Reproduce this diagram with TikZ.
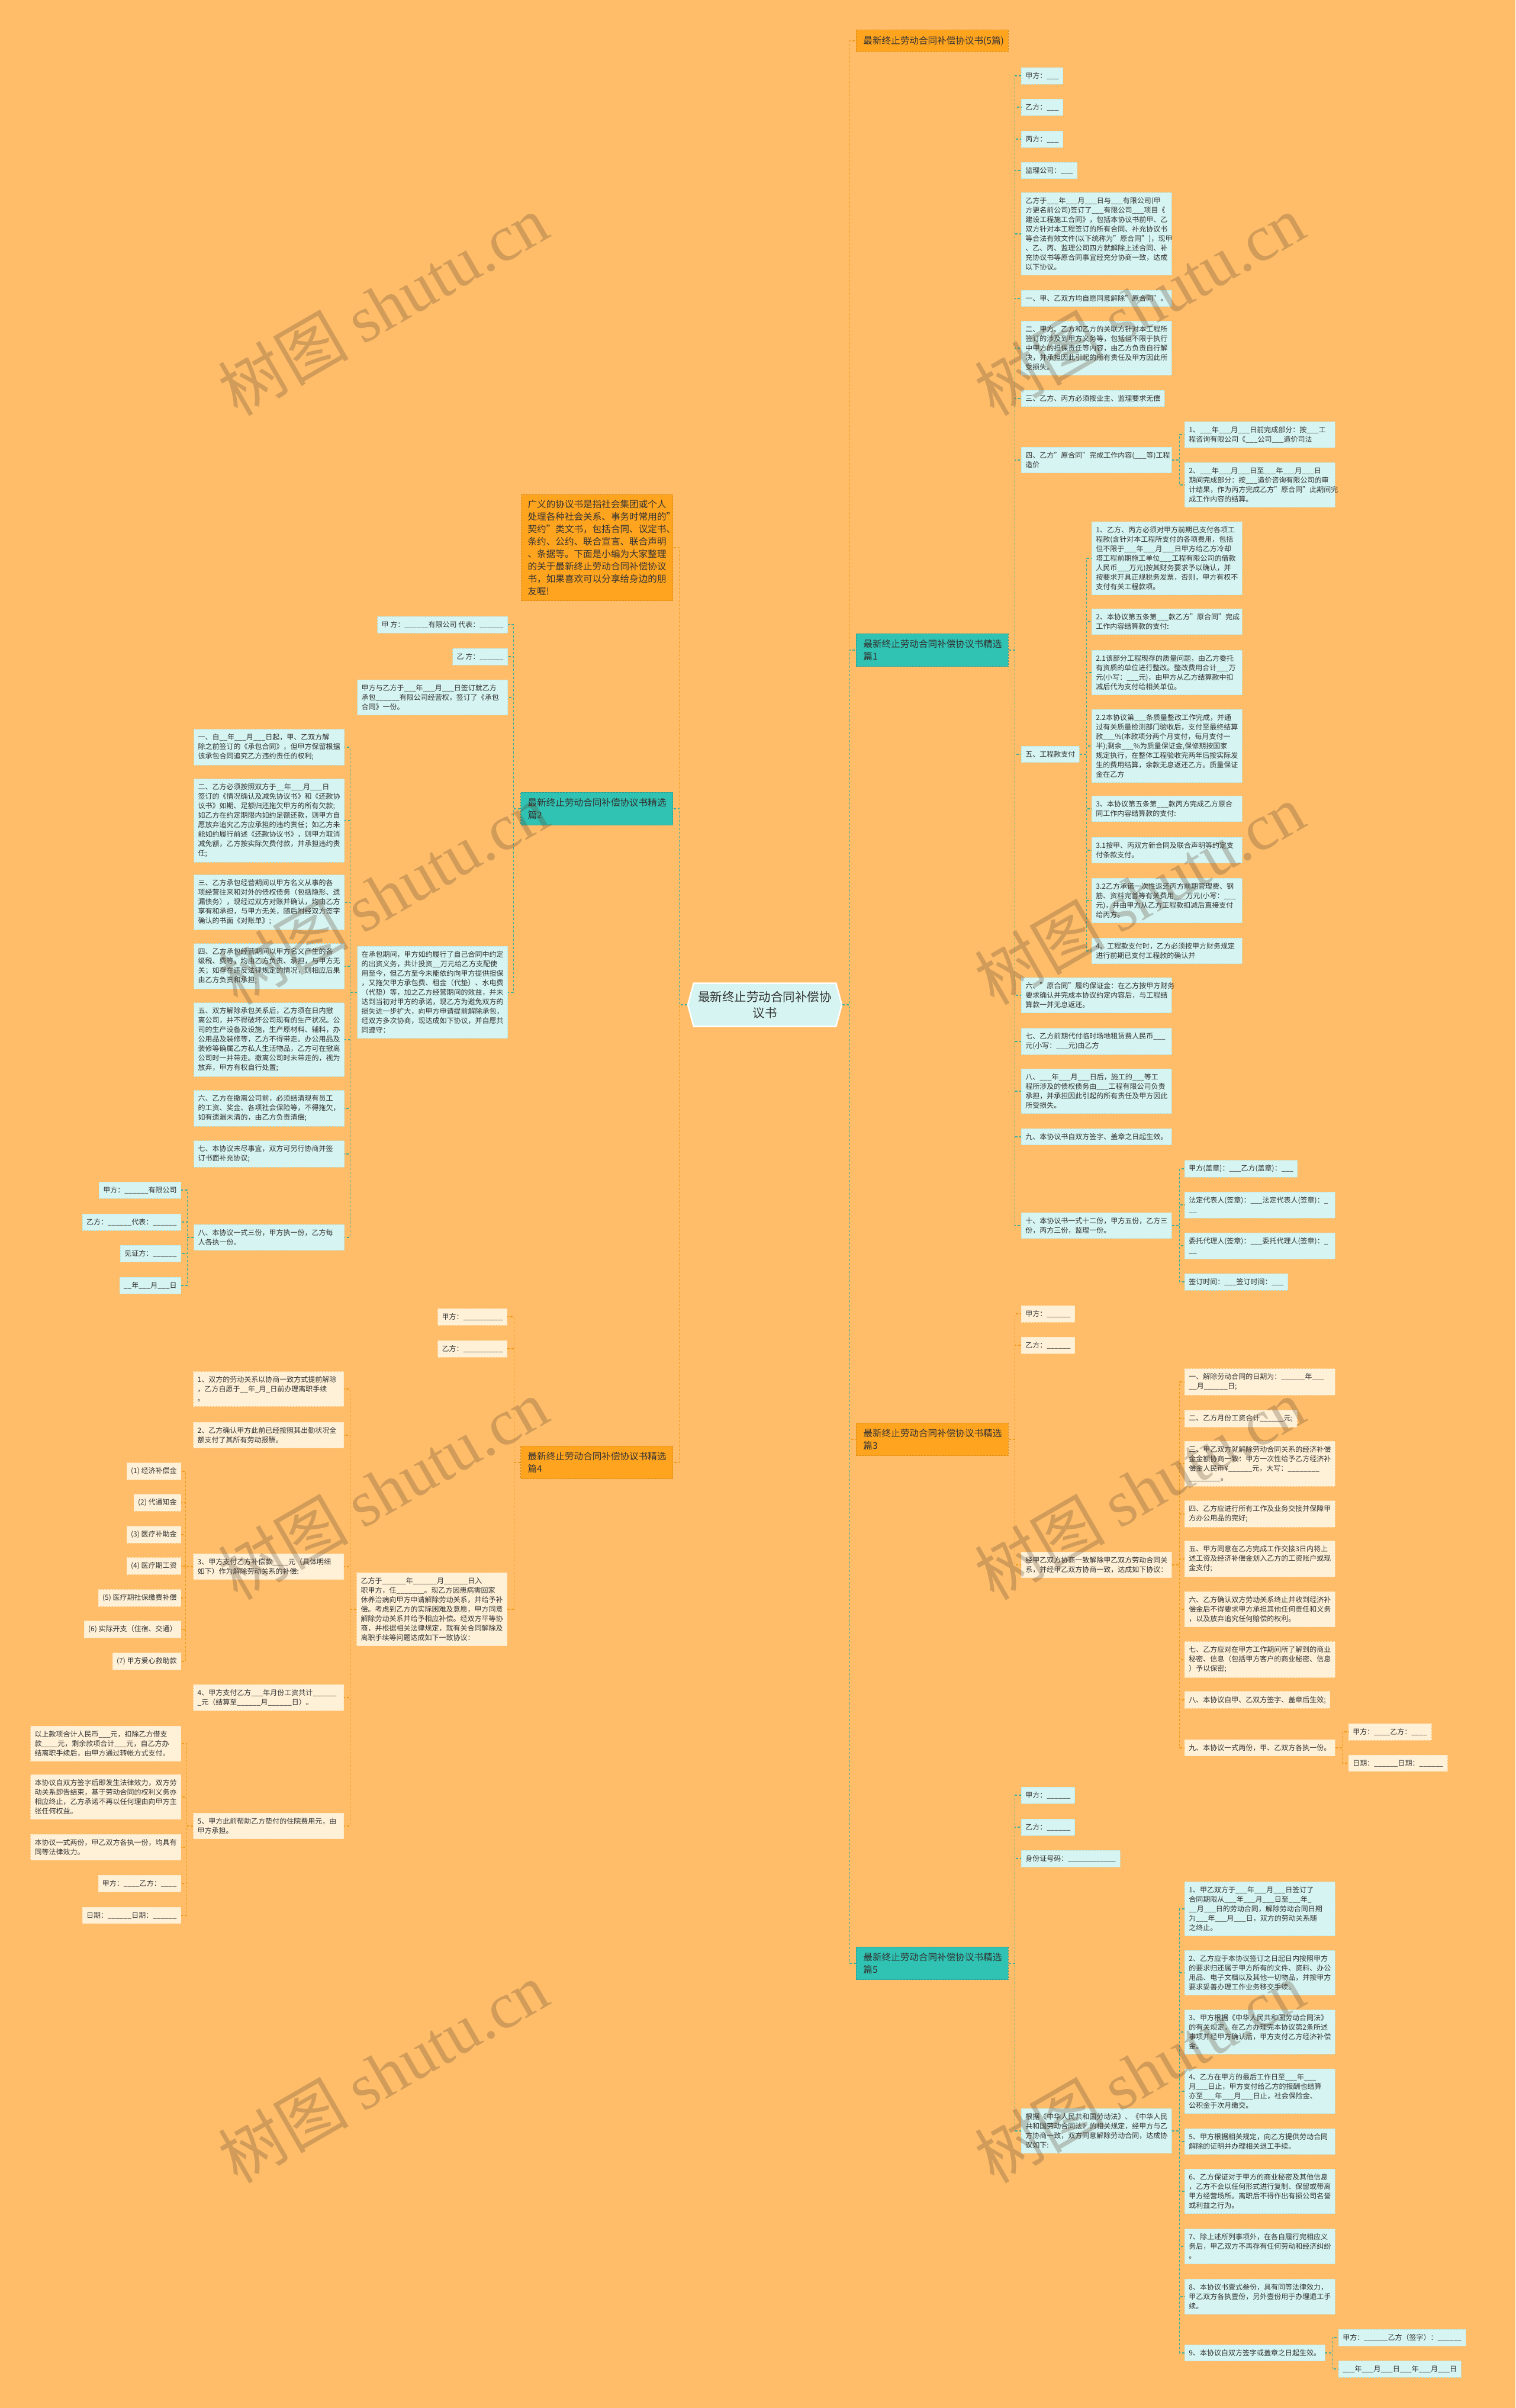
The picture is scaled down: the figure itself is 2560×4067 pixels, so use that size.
\documentclass[tikz,border=0pt]{standalone}
\usepackage{fontspec}
\setmainfont{Noto Sans CJK SC}
\newfontfamily\wmlatin{Liberation Serif}
\usetikzlibrary{shapes.symbols}
\definecolor{mapbg}{HTML}{FFBD69}
\definecolor{sttopic}{HTML}{30C2B2}
\definecolor{sotopic}{HTML}{FFA41F}
\definecolor{stleaf}{HTML}{D6F4F1}
\definecolor{soleaf}{HTML}{FFF1D8}
\definecolor{stline}{HTML}{3AAF9C}
\definecolor{soline}{HTML}{F09A1A}
\definecolor{stext}{HTML}{333333}
\definecolor{swm}{HTML}{5A4632}
\catcode`\_=12

\begin{document}
\begin{tikzpicture}[x=1pt, y=-1pt,
  leaf/.style={draw, dash pattern=on 3pt off 2pt, line width=0.8pt, inner xsep=7pt, inner ysep=8pt,
    text=stext, font=\fontsize{12}{16}\selectfont},
  tleaf/.style={leaf, fill=stleaf, draw=stleaf!80!stline},
  oleaf/.style={leaf, fill=soleaf, draw=soleaf!85!soline},
  wide/.style={text width=240pt, align=left},
  topic/.style={draw, dash pattern=on 3pt off 2pt, line width=0.8pt, inner xsep=12pt, inner ysep=10pt,
    text width=233pt, align=left, text=stext, font=\fontsize{15.6}{21}\selectfont},
  ttopic/.style={topic, fill=sttopic, draw=sttopic!80!black},
  otopic/.style={topic, fill=sotopic, draw=sotopic!85!black},
  tlink/.style={draw=stline, line width=1.2pt, dash pattern=on 4pt off 3pt},
  olink/.style={draw=soline, line width=1.2pt, dash pattern=on 4pt off 3pt},
  wmark/.style={rotate=30, text=swm, text opacity=0.28, font=\fontsize{110}{110}\selectfont}]

  \useasboundingbox (0,0) rectangle (2560,4067);
  \fill[mapbg] (0,0) rectangle (2560,4067);

  % root
  \node[signal, signal to=west and east, signal pointer angle=150, fill=stleaf, draw=white, line width=2.5pt,
    minimum width=260pt, minimum height=73pt, inner sep=2pt, align=center, text=stext,
    font=\fontsize{20.5}{27}\selectfont] (root) at (1292,1697) {最新终止劳动合同补偿协\\议书};

  % right topics
  \node[otopic, anchor=west] (sum5) at (1446,69) {最新终止劳动合同补偿协议书(5篇)};
  \node[ttopic, anchor=west] (p1) at (1446,1098) {最新终止劳动合同补偿协议书精选\\篇1};
  \node[otopic, anchor=west] (p3) at (1446,2431) {最新终止劳动合同补偿协议书精选\\篇3};
  \node[ttopic, anchor=west] (p5) at (1446,3316) {最新终止劳动合同补偿协议书精选\\篇5};

  % left topics
  \node[otopic, anchor=east, text width=234pt, inner xsep=11pt, inner ysep=9pt] (intro) at (1137,925)
    {广义的协议书是指社会集团或个人\\处理各种社会关系、事务时常用的"\\契约"类文书，包括合同、议定书、\\条约、公约、联合宣言、联合声明\\、条据等。下面是小编为大家整理\\的关于最新终止劳动合同补偿协议\\书，如果喜欢可以分享给身边的朋\\友喔!};
  \node[ttopic, anchor=east] (p2) at (1137,1366) {最新终止劳动合同补偿协议书精选\\篇2};
  \node[otopic, anchor=east] (p4) at (1137,2470) {最新终止劳动合同补偿协议书精选\\篇4};

  % 篇1
  \node[tleaf, anchor=west] (p1a) at (1725,128) {甲方：___};
  \node[tleaf, anchor=west] (p1b) at (1725,181) {乙方：___};
  \node[tleaf, anchor=west] (p1c) at (1725,235) {丙方：___};
  \node[tleaf, anchor=west] (p1d) at (1725,288) {监理公司：___};
  \node[tleaf, wide, anchor=west] (p1e) at (1725,395) {乙方于___年___月___日与___有限公司(甲\\方更名前公司)签订了___有限公司___项目《\\建设工程施工合同》，包括本协议书前甲、乙\\双方针对本工程签订的所有合同、补充协议书\\等合法有效文件(以下统称为"原合同")，现甲\\、乙、丙、监理公司四方就解除上述合同、补\\充协议书等原合同事宜经充分协商一致，达成\\以下协议。};
  \node[tleaf, anchor=west] (p1f) at (1725,504) {一、甲、乙双方均自愿同意解除"原合同"。};
  \node[tleaf, wide, anchor=west] (p1g) at (1725,588) {二、甲方、乙方和乙方的关联方针对本工程所\\签订的涉及到甲方义务等，包括但不限于执行\\中甲方的担保责任等内容，由乙方负责自行解\\决，并承担因此引起的所有责任及甲方因此所\\受损失。};
  \node[tleaf, anchor=west] (p1h) at (1725,673) {三、乙方、丙方必须按业主、监理要求无偿};
  \node[tleaf, wide, anchor=west] (p1i) at (1725,777) {四、乙方"原合同"完成工作内容(___等)工程\\造价};
  \node[tleaf, anchor=west] (p1j) at (1725,1274) {五、工程款支付};
  \node[tleaf, wide, anchor=west] (p1k) at (1725,1681) {六、"原合同"履约保证金：在乙方按甲方财务\\要求确认并完成本协议约定内容后，与工程结\\算款一并无息返还。};
  \node[tleaf, wide, anchor=west] (p1l) at (1725,1759) {七、乙方前期代付临时场地租赁费人民币___\\元(小写：___元)由乙方};
  \node[tleaf, wide, anchor=west] (p1m) at (1725,1843) {八、___年___月___日后，施工的___等工\\程所涉及的债权债务由___工程有限公司负责\\承担，并承担因此引起的所有责任及甲方因此\\所受损失。};
  \node[tleaf, anchor=west] (p1n) at (1725,1920) {九、本协议书自双方签字、盖章之日起生效。};
  \node[tleaf, wide, anchor=west] (p1o) at (1725,2070) {十、本协议书一式十二份，甲方五份，乙方三\\份，丙方三份，监理一份。};

  \node[tleaf, wide, anchor=west] (p1i1) at (2001,734) {1、___年___月___日前完成部分：按___工\\程咨询有限公司《___公司___造价司法};
  \node[tleaf, wide, anchor=west] (p1i2) at (2001,819) {2、___年___月___日至___年___月___日\\期间完成部分：按___造价咨询有限公司的审\\计结果，作为丙方完成乙方"原合同"此期间完\\成工作内容的结算。};

  \node[tleaf, wide, anchor=west] (p1j1) at (1844,943) {1、乙方、丙方必须对甲方前期已支付各项工\\程款(含针对本工程所支付的各项费用，包括\\但不限于___年___月___日甲方给乙方冷却\\塔工程前期施工单位___工程有限公司的借款\\人民币___万元)按其财务要求予以确认，并\\按要求开具正规税务发票，否则，甲方有权不\\支付有关工程款项。};
  \node[tleaf, wide, anchor=west] (p1j2) at (1844,1050) {2、本协议第五条第___款乙方"原合同"完成\\工作内容结算款的支付:};
  \node[tleaf, wide, anchor=west] (p1j3) at (1844,1136) {2.1该部分工程现存的质量问题，由乙方委托\\有资质的单位进行整改。整改费用合计___万\\元(小写：___元)，由甲方从乙方结算款中扣\\减后代为支付给相关单位。};
  \node[tleaf, wide, anchor=west] (p1j4) at (1844,1260) {2.2本协议第___条质量整改工作完成，并通\\过有关质量检测部门验收后，支付至最终结算\\款___\%(本款项分两个月支付，每月支付一\\半);剩余___\%为质量保证金,保修期按国家\\规定执行，在整体工程验收完两年后按实际发\\生的费用结算，余款无息返还乙方。质量保证\\金在乙方};
  \node[tleaf, wide, anchor=west] (p1j5) at (1844,1366) {3、本协议第五条第___款丙方完成乙方原合\\同工作内容结算款的支付:};
  \node[tleaf, wide, anchor=west] (p1j6) at (1844,1436) {3.1按甲、丙双方新合同及联合声明等约定支\\付条款支付。};
  \node[tleaf, wide, anchor=west] (p1j7) at (1844,1521) {3.2乙方承诺一次性返还丙方前期管理费、钢\\筋、资料完善等有关费用___万元(小写：___\\元)，并由甲方从乙方工程款扣减后直接支付\\给丙方。};
  \node[tleaf, wide, anchor=west] (p1j8) at (1844,1606) {4、工程款支付时，乙方必须按甲方财务规定\\进行前期已支付工程款的确认并};

  \node[tleaf, anchor=west] (p1o1) at (2001,1974) {甲方(盖章)：___乙方(盖章)：___};
  \node[tleaf, wide, anchor=west] (p1o2) at (2001,2035) {法定代表人(签章)：___法定代表人(签章)：_\\__};
  \node[tleaf, wide, anchor=west] (p1o3) at (2001,2104) {委托代理人(签章)：___委托代理人(签章)：_\\__};
  \node[tleaf, anchor=west] (p1o4) at (2001,2165) {签订时间：___签订时间：___};

  % 篇3
  \node[oleaf, anchor=west] (p3a) at (1725,2219) {甲方：______};
  \node[oleaf, anchor=west] (p3b) at (1725,2272) {乙方：______};
  \node[oleaf, wide, anchor=west] (p3c) at (1725,2643) {经甲乙双方协商一致解除甲乙双方劳动合同关\\系，并经甲乙双方协商一致，达成如下协议：};
  \node[oleaf, wide, anchor=west] (p3c1) at (2001,2334) {一、解除劳动合同的日期为：______年___\\__月______日;};
  \node[oleaf, anchor=west] (p3c2) at (2001,2396) {二、乙方月份工资合计______元;};
  \node[oleaf, wide, anchor=west] (p3c3) at (2001,2472) {三、甲乙双方就解除劳动合同关系的经济补偿\\金金额协商一致：甲方一次性给予乙方经济补\\偿金人民币¥______元，大写：________\\________。};
  \node[oleaf, wide, anchor=west] (p3c4) at (2001,2557) {四、乙方应进行所有工作及业务交接并保障甲\\方办公用品的完好;};
  \node[oleaf, wide, anchor=west] (p3c5) at (2001,2633) {五、甲方同意在乙方完成工作交接3日内将上\\述工资及经济补偿金划入乙方的工资账户或现\\金支付;};
  \node[oleaf, wide, anchor=west] (p3c6) at (2001,2718) {六、乙方确认双方劳动关系终止并收到经济补\\偿金后不得要求甲方承担其他任何责任和义务\\，以及放弃追究任何赔偿的权利。};
  \node[oleaf, wide, anchor=west] (p3c7) at (2001,2803) {七、乙方应对在甲方工作期间所了解到的商业\\秘密、信息（包括甲方客户的商业秘密、信息\\）予以保密;};
  \node[oleaf, anchor=west] (p3c8) at (2001,2871) {八、本协议自甲、乙双方签字、盖章后生效;};
  \node[oleaf, anchor=west] (p3c9) at (2001,2952) {九、本协议一式两份，甲、乙双方各执一份。};
  \node[oleaf, anchor=west] (p3c9a) at (2278,2925) {甲方：____乙方：____};
  \node[oleaf, anchor=west] (p3c9b) at (2278,2978) {日期：______日期：______};

  % 篇5
  \node[tleaf, anchor=west] (p5a) at (1725,3032) {甲方：______};
  \node[tleaf, anchor=west] (p5b) at (1725,3086) {乙方：______};
  \node[tleaf, anchor=west] (p5c) at (1725,3139) {身份证号码：____________};
  \node[tleaf, wide, anchor=west] (p5d) at (1725,3599) {根据《中华人民共和国劳动法》、《中华人民\\共和国劳动合同法》的相关规定，经甲方与乙\\方协商一致，双方同意解除劳动合同，达成协\\议如下:};
  \node[tleaf, wide, anchor=west] (p5d1) at (2001,3224) {1、甲乙双方于___年___月___日签订了\\合同期限从___年___月___日至___年_\\__月___日的劳动合同，解除劳动合同日期\\为___年___月___日，双方的劳动关系随\\之终止。};
  \node[tleaf, wide, anchor=west] (p5d2) at (2001,3332) {2、乙方应于本协议签订之日起日内按照甲方\\的要求归还属于甲方所有的文件、资料、办公\\用品、电子文档以及其他一切物品，并按甲方\\要求妥善办理工作业务移交手续。};
  \node[tleaf, wide, anchor=west] (p5d3) at (2001,3432) {3、甲方根据《中华人民共和国劳动合同法》\\的有关规定，在乙方办理完本协议第2条所述\\事项并经甲方确认后，甲方支付乙方经济补偿\\金。};
  \node[tleaf, wide, anchor=west] (p5d4) at (2001,3532) {4、乙方在甲方的最后工作日至___年___\\月___日止，甲方支付给乙方的报酬也结算\\亦至___年___月___日止，社会保险金、\\公积金于次月缴交。};
  \node[tleaf, wide, anchor=west] (p5d5) at (2001,3617) {5、甲方根据相关规定，向乙方提供劳动合同\\解除的证明并办理相关退工手续。};
  \node[tleaf, wide, anchor=west] (p5d6) at (2001,3701) {6、乙方保证对于甲方的商业秘密及其他信息\\，乙方不会以任何形式进行复制、保留或带离\\甲方经营场所。离职后不得作出有损公司名誉\\或利益之行为。};
  \node[tleaf, wide, anchor=west] (p5d7) at (2001,3794) {7、除上述所列事项外，在各自履行完相应义\\务后，甲乙双方不再存有任何劳动和经济纠纷\\。};
  \node[tleaf, wide, anchor=west] (p5d8) at (2001,3879) {8、本协议书壹式叁份，具有同等法律效力，\\甲乙双方各执壹份，另外壹份用于办理退工手\\续。};
  \node[tleaf, anchor=west] (p5d9) at (2001,3974) {9、本协议自双方签字或盖章之日起生效。};
  \node[tleaf, anchor=west] (p5d9a) at (2261,3948) {甲方：______乙方（签字）：______};
  \node[tleaf, anchor=west] (p5d9b) at (2261,4001) {___年___月___日___年___月___日};

  % 篇2
  \node[tleaf, anchor=east] (p2a) at (858,1055) {甲 方：______有限公司 代表：______};
  \node[tleaf, anchor=east] (p2b) at (858,1109) {乙 方：______};
  \node[tleaf, wide, anchor=east] (p2c) at (858,1178) {甲方与乙方于___年___月___日签订就乙方\\承包______有限公司经营权，签订了《承包\\合同》一份。};
  \node[tleaf, wide, anchor=east] (p2d) at (858,1676) {在承包期间，甲方如约履行了自己合同中约定\\的出资义务，共计投资__万元给乙方支配使\\用至今，但乙方至今未能依约向甲方提供担保\\，又拖欠甲方承包费、租金（代垫）、水电费\\（代垫）等，加之乙方经营期间的效益，并未\\达到当初对甲方的承诺，现乙方为避免双方的\\损失进一步扩大，向甲方申请提前解除承包，\\经双方多次协商，现达成如下协议，并自愿共\\同遵守：};
  \node[tleaf, wide, anchor=east] (p2d1) at (582,1262) {一、自__年___月___日起，甲、乙双方解\\除之前签订的《承包合同》，但甲方保留根据\\该承包合同追究乙方违约责任的权利;};
  \node[tleaf, wide, anchor=east] (p2d2) at (582,1386) {二、乙方必须按照双方于__年___月___日\\签订的《情况确认及减免协议书》和《还款协\\议书》如期、足额归还拖欠甲方的所有欠款;\\如乙方在约定期限内如约足额还款，则甲方自\\愿放弃追究乙方应承担的违约责任；如乙方未\\能如约履行前述《还款协议书》，则甲方取消\\减免额，乙方按实际欠费付款，并承担违约责\\任;};
  \node[tleaf, wide, anchor=east] (p2d3) at (582,1524) {三、乙方承包经营期间以甲方名义从事的各\\项经营往来和对外的债权债务（包括隐形、遗\\漏债务），现经过双方对账并确认，均由乙方\\享有和承担，与甲方无关，随后附经双方签字\\确认的书面《对账单》;};
  \node[tleaf, wide, anchor=east] (p2d4) at (582,1632) {四、乙方承包经营期间以甲方名义产生的各\\级税、费等，均由乙方负责、承担，与甲方无\\关；如存在违反法律规定的情况，则相应后果\\由乙方负责和承担;};
  \node[tleaf, wide, anchor=east] (p2d5) at (582,1756) {五、双方解除承包关系后，乙方须在日内撤\\离公司，并不得破坏公司现有的生产状况。公\\司的生产设备及设施，生产原材料、辅料，办\\公用品及装修等，乙方不得带走。办公用品及\\装修等确属乙方私人生活物品，乙方可在撤离\\公司时一并带走。撤离公司时未带走的，视为\\放弃，甲方有权自行处置;};
  \node[tleaf, wide, anchor=east] (p2d6) at (582,1872) {六、乙方在撤离公司前，必须结清现有员工\\的工资、奖金、各项社会保险等，不得拖欠，\\如有遗漏未清的，由乙方负责清偿;};
  \node[tleaf, wide, anchor=east] (p2d7) at (582,1949) {七、本协议未尽事宜，双方可另行协商并签\\订书面补充协议;};
  \node[tleaf, wide, anchor=east] (p2d8) at (582,2090) {八、本协议一式三份，甲方执一份，乙方每\\人各执一份。};
  \node[tleaf, anchor=east] (p2d8a) at (306,2010) {甲方：______有限公司};
  \node[tleaf, anchor=east] (p2d8b) at (306,2064) {乙方：______代表：______};
  \node[tleaf, anchor=east] (p2d8c) at (306,2117) {见证方：______};
  \node[tleaf, anchor=east] (p2d8d) at (306,2171) {__年___月___日};

  % 篇4
  \node[oleaf, anchor=east] (p4a) at (857,2224) {甲方：__________};
  \node[oleaf, anchor=east] (p4b) at (857,2278) {乙方：__________};
  \node[oleaf, wide, anchor=east] (p4c) at (857,2718) {乙方于______年______月______日入\\职甲方，任_______。现乙方因患病需回家\\休养治病向甲方申请解除劳动关系，并给予补\\偿。考虑到乙方的实际困难及意愿，甲方同意\\解除劳动关系并给予相应补偿。经双方平等协\\商，并根据相关法律规定，就有关合同解除及\\离职手续等问题达成如下一致协议：};
  \node[oleaf, wide, anchor=east] (p4c1) at (581,2346) {1、双方的劳动关系以协商一致方式提前解除\\，乙方自愿于__年_月_日前办理离职手续\\。};
  \node[oleaf, wide, anchor=east] (p4c2) at (581,2424) {2、乙方确认甲方此前已经按照其出勤状况全\\额支付了其所有劳动报酬。};
  \node[oleaf, wide, anchor=east] (p4c3) at (581,2646) {3、甲方支付乙方补偿款____元（具体明细\\如下）作为解除劳动关系的补偿:};
  \node[oleaf, wide, anchor=east] (p4c4) at (581,2867) {4、甲方支付乙方___年月份工资共计______\\_元（结算至______月______日）。};
  \node[oleaf, wide, anchor=east] (p4c5) at (581,3084) {5、甲方此前帮助乙方垫付的住院费用元，由\\甲方承担。};
  \node[oleaf, anchor=east] (p4c3a) at (306,2485) {(1) 经济补偿金};
  \node[oleaf, anchor=east] (p4c3b) at (306,2538) {(2) 代通知金};
  \node[oleaf, anchor=east] (p4c3c) at (306,2592) {(3) 医疗补助金};
  \node[oleaf, anchor=east] (p4c3d) at (306,2645) {(4) 医疗期工资};
  \node[oleaf, anchor=east] (p4c3e) at (306,2699) {(5) 医疗期社保缴费补偿};
  \node[oleaf, anchor=east] (p4c3f) at (306,2752) {(6) 实际开支（住宿、交通）};
  \node[oleaf, anchor=east] (p4c3g) at (306,2806) {(7) 甲方爱心救助款};
  \node[oleaf, wide, anchor=east] (p4c5a) at (306,2945) {以上款项合计人民币___元，扣除乙方借支\\款____元，剩余款项合计___元，自乙方办\\结离职手续后，由甲方通过转帐方式支付。};
  \node[oleaf, wide, anchor=east] (p4c5b) at (306,3035) {本协议自双方签字后即发生法律效力，双方劳\\动关系即告结束，基于劳动合同的权利义务亦\\相应终止，乙方承诺不再以任何理由向甲方主\\张任何权益。};
  \node[oleaf, wide, anchor=east] (p4c5c) at (306,3120) {本协议一式两份，甲乙双方各执一份，均具有\\同等法律效力。};
  \node[oleaf, anchor=east] (p4c5d) at (306,3181) {甲方：____乙方：____};
  \node[oleaf, anchor=east] (p4c5e) at (306,3235) {日期：______日期：______};

  % connectors, right side
  \foreach \c in {sum5,p3} \draw[olink] (root.east) -- ++(12,0) |- (\c.west);
  \foreach \c in {p1,p5} \draw[tlink] (root.east) -- ++(12,0) |- (\c.west);
  \foreach \c in {p1a,p1b,p1c,p1d,p1e,p1f,p1g,p1h,p1i,p1j,p1k,p1l,p1m,p1n,p1o}
    \draw[tlink] (p1.east) -- ++(11,0) |- (\c.west);
  \foreach \c in {p1i1,p1i2} \draw[tlink] (p1i.east) -- ++(13,0) |- (\c.west);
  \foreach \c in {p1j1,p1j2,p1j3,p1j4,p1j5,p1j6,p1j7,p1j8} \draw[tlink] (p1j.east) -- ++(12,0) |- (\c.west);
  \foreach \c in {p1o1,p1o2,p1o3,p1o4} \draw[tlink] (p1o.east) -- ++(13,0) |- (\c.west);
  \foreach \c in {p3a,p3b,p3c} \draw[olink] (p3.east) -- ++(11,0) |- (\c.west);
  \foreach \c in {p3c1,p3c2,p3c3,p3c4,p3c5,p3c6,p3c7,p3c8,p3c9} \draw[olink] (p3c.east) -- ++(13,0) |- (\c.west);
  \foreach \c in {p3c9a,p3c9b} \draw[olink] (p3c9.east) -- ++(12,0) |- (\c.west);
  \foreach \c in {p5a,p5b,p5c,p5d} \draw[tlink] (p5.east) -- ++(11,0) |- (\c.west);
  \foreach \c in {p5d1,p5d2,p5d3,p5d4,p5d5,p5d6,p5d7,p5d8,p5d9} \draw[tlink] (p5d.east) -- ++(13,0) |- (\c.west);
  \foreach \c in {p5d9a,p5d9b} \draw[tlink] (p5d9.east) -- ++(12,0) |- (\c.west);

  % connectors, left side
  \foreach \c in {intro,p4} \draw[olink] (root.west) -- ++(-13,0) |- (\c.east);
  \draw[tlink] (root.west) -- ++(-13,0) |- (p2.east);
  \foreach \c in {p2a,p2b,p2c,p2d} \draw[tlink] (p2.west) -- ++(-12,0) |- (\c.east);
  \foreach \c in {p2d1,p2d2,p2d3,p2d4,p2d5,p2d6,p2d7,p2d8} \draw[tlink] (p2d.west) -- ++(-12,0) |- (\c.east);
  \foreach \c in {p2d8a,p2d8b,p2d8c,p2d8d} \draw[tlink] (p2d8.west) -- ++(-11,0) |- (\c.east);
  \foreach \c in {p4a,p4b,p4c} \draw[olink] (p4.west) -- ++(-11,0) |- (\c.east);
  \foreach \c in {p4c1,p4c2,p4c3,p4c4,p4c5} \draw[olink] (p4c.west) -- ++(-11,0) |- (\c.east);
  \foreach \c in {p4c3a,p4c3b,p4c3c,p4c3d,p4c3e,p4c3f,p4c3g} \draw[olink] (p4c3.west) -- ++(-13,0) |- (\c.east);
  \foreach \c in {p4c5a,p4c5b,p4c5c,p4c5d,p4c5e} \draw[olink] (p4c5.west) -- ++(-11,0) |- (\c.east);

  % watermarks
  \foreach \wx in {647,1925}
    \foreach \wy in {515,1510,2515,3500}
      \node[wmark] (wm-\wx-\wy) at (\wx,\wy) {树图 {\wmlatin shutu.cn}};
\end{tikzpicture}
\end{document}
